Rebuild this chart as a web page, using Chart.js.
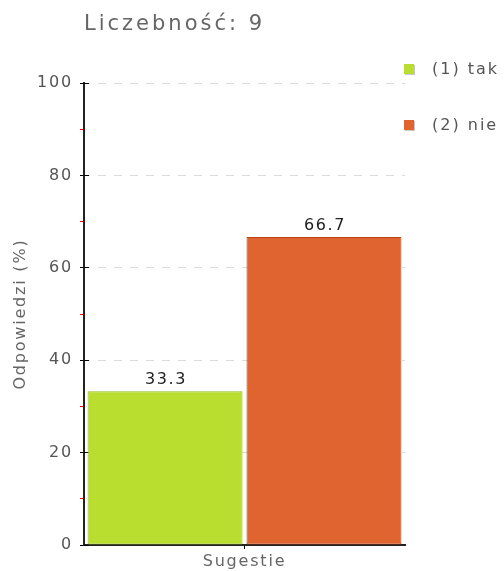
<!DOCTYPE html>
<html><head><meta charset="utf-8">
<script src="https://cdn.jsdelivr.net/npm/chart.js@4"></script>
<style>html,body{margin:0;padding:0;background:#fff;} canvas{display:block;}</style>
</head><body>
<canvas id="c" width="504" height="571"></canvas>
<script>
// ---- data ----
const categories = ['Sugestie'];
const seriesLabels = ['(1) tak', '(2) nie'];
const seriesTak = [33.3];
const seriesNie = [66.7];
const yTickValues = [0, 20, 40, 60, 80, 100];
const titleText = 'Liczebność: 9';
const yAxisTitle = 'Odpowiedzi (%)';

// ---- styles ----
const FONT = "'DejaVu Sans', Verdana, sans-serif";
const fillColors = ['#bade30', '#e0642f'];
const borderColors = ['#94bd1e', '#b8440f'];

function isMajor(v) { return yTickValues.includes(v); }

const spacingPlugin = {
  id: 'spacing',
  beforeDraw(chart) {
    chart.ctx.letterSpacing = '1.8px';
    const tb = chart.titleBlock;
    if (tb && !tb.__patched) {
      const orig = tb.draw.bind(tb);
      tb.draw = function (area) {
        const ctx = chart.ctx;
        const p = ctx.letterSpacing;
        ctx.letterSpacing = '3px';
        orig(area);
        ctx.letterSpacing = p;
      };
      tb.__patched = true;
    }
  }
};

const tickExtPlugin = {
  id: 'tickExt',
  beforeDatasetsDraw(chart) {
    const ctx = chart.ctx;
    const ys = chart.scales.y;
    const left = chart.chartArea.left;
    ctx.save();
    ctx.strokeStyle = '#000';
    ctx.lineWidth = 1;
    yTickValues.forEach(v => {
      const py = Math.round(ys.getPixelForValue(v) - 0.5) + 0.5;
      ctx.beginPath();
      ctx.moveTo(left, py);
      ctx.lineTo(left + 5, py);
      ctx.stroke();
    });
    ctx.restore();
  }
};

const valueLabelPlugin = {
  id: 'valueLabels',
  afterDatasetsDraw(chart) {
    const ctx = chart.ctx;
    ctx.save();
    ctx.letterSpacing = '1.6px';
    ctx.font = '16px ' + FONT;
    ctx.fillStyle = '#222';
    ctx.textAlign = 'center';
    ctx.textBaseline = 'alphabetic';
    chart.data.datasets.forEach((ds, i) => {
      chart.getDatasetMeta(i).data.forEach((el, j) => {
        ctx.fillText(ds.data[j].toFixed(1), el.x + 1, el.y - 7);
      });
    });
    ctx.restore();
  }
};

const sideLegendPlugin = {
  id: 'sideLegend',
  afterDraw(chart) {
    const ctx = chart.ctx;
    ctx.save();
    ctx.letterSpacing = '2px';
    ctx.font = '16px ' + FONT;
    ctx.textAlign = 'left';
    ctx.textBaseline = 'middle';
    chart.data.datasets.forEach((ds, i) => {
      const cy = 69 + i * 56;
      ctx.fillStyle = '#c8c8c8';
      ctx.fillRect(405, cy - 4, 10, 10);
      ctx.fillStyle = ds.backgroundColor;
      ctx.fillRect(404, cy - 5, 10, 10);
      ctx.fillStyle = '#555';
      ctx.fillText(ds.label, 432, cy + 1);
    });
    ctx.restore();
  }
};

new Chart(document.getElementById('c'), {
  type: 'bar',
  data: {
    labels: categories,
    datasets: [
      { label: seriesLabels[0], data: seriesTak, backgroundColor: fillColors[0], borderColor: borderColors[0],
        borderWidth: 1, borderSkipped: false, categoryPercentage: 0.99, barPercentage: 0.975 },
      { label: seriesLabels[1], data: seriesNie, backgroundColor: fillColors[1], borderColor: borderColors[1],
        borderWidth: 1, borderSkipped: false, categoryPercentage: 0.99, barPercentage: 0.975 }
    ]
  },
  options: {
    responsive: false,
    animation: false,
    layout: { padding: { left: 0, right: 99, top: 0, bottom: 0 } },
    plugins: {
      legend: { display: false },
      tooltip: { enabled: false },
      title: {
        display: true, text: titleText, align: 'start', fullSize: false, color: '#666',
        font: { family: FONT, size: 21, weight: 'normal' },
        padding: { top: 12, bottom: 46 }
      }
    },
    scales: {
      x: {
        grid: { offset: false, drawOnChartArea: false, tickLength: 4, tickColor: '#000', tickWidth: 1 },
        border: { color: '#222', width: 2 },
        ticks: { color: '#666', font: { family: FONT, size: 16 }, padding: 3 },
        afterFit(s) { s.height = 26; }
      },
      y: {
        min: 0, max: 100,
        ticks: {
          stepSize: 10, autoSkip: false,
          callback: v => isMajor(v) ? String(v) : '',
          color: '#555', font: { family: FONT, size: 16 }, padding: 7
        },
        grid: {
          color: c => (c.tick && isMajor(c.tick.value) && c.tick.value !== 0) ? '#dcdcdc' : 'rgba(0,0,0,0)',
          tickColor: c => (c.tick && isMajor(c.tick.value)) ? '#000' : '#ff0000',
          tickLength: 4, tickWidth: 1, lineWidth: 1
        },
        border: { color: '#222', width: 2, dash: [8, 8], dashOffset: 3 },
        title: {
          display: true, text: yAxisTitle, color: '#666',
          font: { family: FONT, size: 16 }, padding: { top: 11, bottom: 0 }
        },
        afterFit(s) { s.width = 84; }
      }
    }
  },
  plugins: [spacingPlugin, tickExtPlugin, valueLabelPlugin, sideLegendPlugin]
});
</script>
</body></html>
